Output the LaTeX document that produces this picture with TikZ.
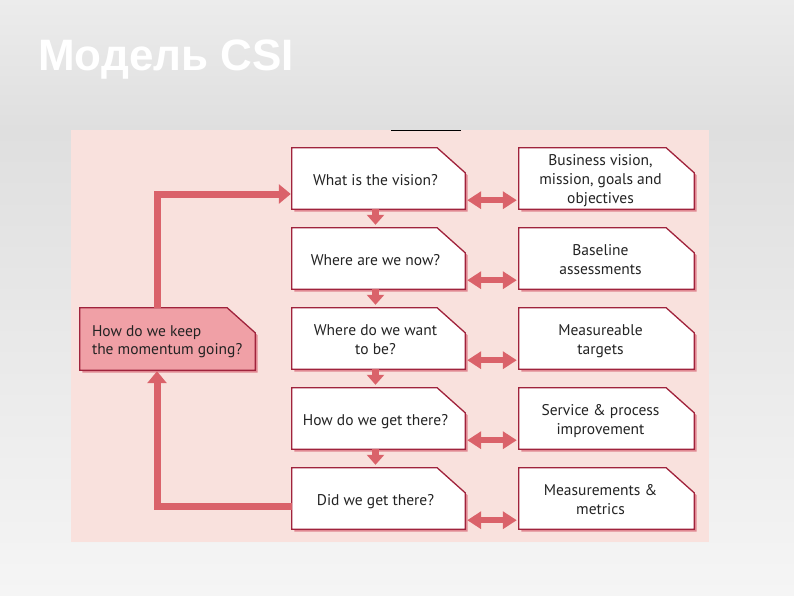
\documentclass[tikz,border=0pt]{standalone}
\usepackage{fontspec}
\setmainfont{PT Sans}
\newfontfamily\titlefont{Liberation Sans}
\usetikzlibrary{arrows.meta}
\pgfdeclarelayer{bgl}
\pgfdeclarelayer{boxl}
\pgfsetlayers{bgl,boxl,main}
\definecolor{pinkbg}{RGB}{249,225,221}
\definecolor{arrowred}{RGB}{218,98,106}
\definecolor{boxline}{RGB}{160,35,60}
\definecolor{shadowc}{RGB}{224,135,145}
\definecolor{momfill}{RGB}{240,160,166}
\definecolor{txt}{RGB}{35,35,35}
\definecolor{bgtop}{RGB}{236,236,236}
\definecolor{bgmid}{RGB}{223,223,223}
\definecolor{bgbot}{RGB}{245,245,245}
\newcommand{\qshape}[2]{%
 \begin{pgfonlayer}{boxl}
 \fill[shadowc] ([xshift=2.5pt,yshift=-2.5pt]#1.south west) -- ([xshift=2.5pt,yshift=-2.5pt]#1.north west) -- ([xshift=-25.5pt,yshift=-2.5pt]#1.north east) -- ([xshift=2.5pt,yshift=-27.5pt]#1.north east) -- ([xshift=2.5pt,yshift=-2.5pt]#1.south east) -- cycle;
 \filldraw[fill=#2, draw=boxline, line width=1.3pt, line join=miter] (#1.south west) -- (#1.north west) -- ([xshift=-28pt]#1.north east) -- ([yshift=-25pt]#1.north east) -- (#1.south east) -- cycle;
 \end{pgfonlayer}}
\newcommand{\lt}[1]{\raisebox{-3pt}[\height][\depth]{\begin{tabular}{@{}c@{\hspace{6pt}}}#1\end{tabular}}}
\newcommand{\rt}[1]{\raisebox{-2.5pt}[\height][\depth]{\begin{tabular}{@{}c@{\hspace{12pt}}}#1\end{tabular}}}
\tikzset{
 qb/.style={minimum width=173pt, minimum height=61pt, inner sep=0pt, text=txt, font=\fontsize{15.5}{19}\selectfont},
 rb/.style={qb, minimum width=175pt},
 dbl/.style={draw=arrowred, line width=6pt, {Triangle[width=17pt,length=14pt]}-{Triangle[width=17pt,length=14pt]}, shorten <=2pt, shorten >=2pt},
 dn/.style={draw=arrowred, line width=7pt, -{Triangle[width=17pt,length=10pt]}, shorten >=3pt},
 fb/.style={draw=arrowred, line width=7pt, -{Triangle[width=19pt,length=12pt]}, shorten >=1pt}
}
\begin{document}
\begin{tikzpicture}[x=1pt,y=-1pt]
\useasboundingbox (0,0) rectangle (794,595);
\begin{pgfonlayer}{bgl}
 \shade[top color=bgtop, bottom color=bgmid] (0,0) rectangle (794,130);
 \shade[top color=bgmid, bottom color=bgbot] (0,130) rectangle (794,595);
 \fill[pinkbg] (71,130) rectangle (709,542);
 \draw[black, line width=1pt] (391,130.5) -- (461,130.5);
\end{pgfonlayer}
\node[font=\titlefont\bfseries\fontsize{44}{50}\selectfont, text=white, anchor=base west, inner sep=0pt] (title) at (38,70) {Модель CSI};
% left column
\node[qb] (q1) at (378.5,178.5) {\lt{What is the vision?}};
\node[qb] (q2) at (378.5,258.5) {\lt{Where are we now?}};
\node[qb] (q3) at (378.5,338.5) {\lt{Where do we want\\to be?}};
\node[qb] (q4) at (378.5,418.5) {\lt{How do we get there?}};
\node[qb] (q5) at (378.5,498.5) {\lt{Did we get there?}};
% right column
\node[rb] (a1) at (606.5,178.5) {\rt{Business vision,\\mission, goals and\\objectives}};
\node[rb] (a2) at (606.5,258.5) {\rt{Baseline\\assessments}};
\node[rb] (a3) at (606.5,338.5) {\rt{Measureable\\targets}};
\node[rb] (a4) at (606.5,418.5) {\rt{Service \& process\\improvement}};
\node[rb] (a5) at (606.5,498.5) {\rt{Measurements \&\\metrics}};
% momentum
\node[qb, minimum width=175pt, minimum height=62pt, font=\fontsize{15.5}{18}\selectfont] (m) at (167.5,339) {\raisebox{-2.5pt}[\height][\depth]{\begin{tabular}{@{\hspace{12pt}}p{163pt}@{}}How do we keep\\the momentum going?\end{tabular}}};
\qshape{q1}{white}\qshape{q2}{white}\qshape{q3}{white}\qshape{q4}{white}\qshape{q5}{white}
\qshape{a1}{white}\qshape{a2}{white}\qshape{a3}{white}\qshape{a4}{white}\qshape{a5}{white}
\qshape{m}{momfill}
% down arrows
\draw[dn] ([xshift=-3pt]q1.south) -- ([xshift=-3pt]q2.north);
\draw[dn] ([xshift=-3pt]q2.south) -- ([xshift=-3pt]q3.north);
\draw[dn] ([xshift=-3pt]q3.south) -- ([xshift=-3pt]q4.north);
\draw[dn] ([xshift=-3pt]q4.south) -- ([xshift=-3pt]q5.north);
% double arrows
\draw[dbl] ([yshift=9pt]q1.south east) -- ([yshift=9pt]a1.south west);
\draw[dbl] ([yshift=9pt]q2.south east) -- ([yshift=9pt]a2.south west);
\draw[dbl] ([yshift=9pt]q3.south east) -- ([yshift=9pt]a3.south west);
\draw[dbl] ([yshift=9pt]q4.south east) -- ([yshift=9pt]a4.south west);
\draw[dbl] ([yshift=9pt]q5.south east) -- ([yshift=9pt]a5.south west);
% feedback loop
\draw[fb] ([xshift=-10.5pt]m.north) |- ([yshift=-15.5pt]q1.west);
\draw[fb] ([yshift=-7.5pt]q5.west) -| ([xshift=-10.5pt]m.south);
\end{tikzpicture}
\end{document}
